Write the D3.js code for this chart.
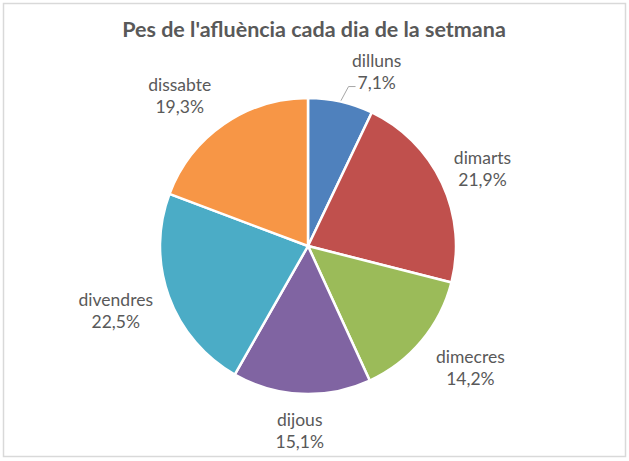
<!DOCTYPE html>
<html>
<head>
<meta charset="utf-8">
<script src="https://cdn.jsdelivr.net/npm/d3@7"></script>
<style>
  html, body { margin: 0; padding: 0; background: #fff; }
  svg { display: block; }
</style>
</head>
<body>
<svg id="chart"></svg>
<script>
'use strict';

const title = "Pes de l'afluència cada dia de la setmana";
const days = ['dilluns', 'dimarts', 'dimecres', 'dijous', 'divendres', 'dissabte'];
const shares = [7.1, 21.9, 14.2, 15.1, 22.5, 19.3];
const colors = ['#4f81bd', '#c0504d', '#9bbb59', '#8064a2', '#4bacc6', '#f79646'];

const opts = {
	width: 629,
	height: 461,
	cx: 308,
	cy: 246,
	radius: 148,
	labelGap: 14,
	lineHeight: 22,
	fontSize: 17.5,
	font: 'Lato, "Open Sans", sans-serif'
};

const svg = d3.select('#chart')
	.attr('width', opts.width)
	.attr('height', opts.height);

// chart frame
svg.append('rect')
	.attr('x', 3.5)
	.attr('y', 3.5)
	.attr('width', opts.width - 7)
	.attr('height', opts.height - 8)
	.attr('fill', '#fff')
	.attr('stroke', '#d9d9d9')
	.attr('stroke-width', 1.5);

svg.append('text')
	.text(title)
	.attr('x', 314)
	.attr('y', 37)
	.attr('text-anchor', 'middle')
	.attr('font-family', opts.font)
	.attr('font-weight', 'bold')
	.attr('font-size', 21.5)
	.attr('fill', '#595959');

const data = days.map((d, i) => ({ day: d, share: shares[i], color: colors[i] }));

const pie = d3.pie()
	.sort(null)
	.value(d => d.share);

const arc = d3.arc()
	.innerRadius(0)
	.outerRadius(opts.radius);

const g = svg.append('g')
	.attr('transform', `translate(${opts.cx}, ${opts.cy})`);

const arcs = pie(data);

g.selectAll('path.slice')
	.data(arcs)
	.join('path')
	.attr('class', 'slice')
	.attr('d', arc)
	.attr('fill', d => d.data.color)
	.attr('stroke', '#fff')
	.attr('stroke-width', 2.5)
	.attr('stroke-linejoin', 'round');

// labels pushed sideways (Excel best fit); dilluns also gets a leader line
const labelShift = { dilluns: [27, 4], dissabte: [-17, 0], dimecres: [10, 3], divendres: [-3, 1] };

const fmt = v => d3.format('.1f')(v).replace('.', ',') + '%';

arcs.forEach(d => {
	const a = (d.startAngle + d.endAngle) / 2;
	const r = opts.radius + opts.labelGap;
	const lbl = g.append('g');

	const t1 = lbl.append('text')
		.text(d.data.day)
		.attr('text-anchor', 'middle')
		.attr('font-family', opts.font)
		.attr('font-size', opts.fontSize)
		.attr('fill', '#595959');
	const t2 = lbl.append('text')
		.text(fmt(d.data.share))
		.attr('text-anchor', 'middle')
		.attr('font-family', opts.font)
		.attr('font-size', opts.fontSize)
		.attr('fill', '#595959');

	const halfW = Math.max(t1.node().getComputedTextLength(), t2.node().getComputedTextLength()) / 2 + 2;
	const halfH = opts.lineHeight;
	let x = Math.sin(a) * r + Math.sin(a) * halfW;
	let y = -Math.cos(a) * r - Math.cos(a) * halfH;

	const shift = labelShift[d.data.day];
	if (shift) {
		x += shift[0];
		y += shift[1];
	}

	if (d.data.day === 'dilluns') {
		// leader: from the slice edge up to the left side of the percentage
		const ex = Math.sin(a) * (opts.radius + 1);
		const ey = -Math.cos(a) * (opts.radius + 1);
		const lx = x - t2.node().getComputedTextLength() / 2 - 2;
		const ly = y + 16;
		g.append('path')
			.attr('d', `M ${ex} ${ey} L ${lx - 7} ${ly} L ${lx} ${ly}`)
			.attr('fill', 'none')
			.attr('stroke', '#a6a6a6')
			.attr('stroke-width', 1);
	}

	t1.attr('x', x).attr('y', y - 4);
	t2.attr('x', x).attr('y', y + 18);
});
</script>
</body>
</html>
